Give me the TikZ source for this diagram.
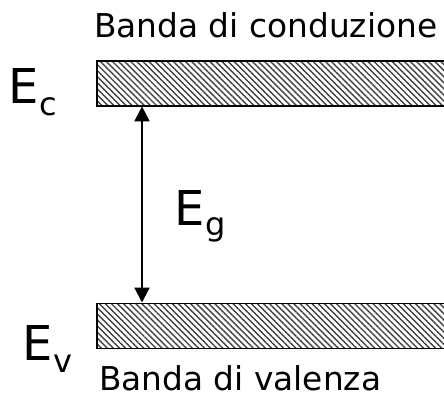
\documentclass[tikz,border=0pt]{standalone}
\usepackage{fontspec}
\setmainfont{DejaVu Sans}
\usetikzlibrary{arrows.meta,patterns.meta}
\tikzset{
  band/.style={draw=black, line width=1.6pt, pattern={Lines[angle=-45,distance=4.3pt,line width=1.4pt]}, pattern color=black!75, anchor=north west, minimum width=360pt, minimum height=45pt, inner sep=0pt},
  lbl/.style={anchor=base west, inner sep=0pt, font=\fontsize{32.8}{38}\selectfont},
  big/.style={anchor=base west, inner sep=0pt, font=\fontsize{48}{56}\selectfont},
  gap/.style={line width=2.2pt, {Triangle[length=15pt,width=15pt]}-{Triangle[length=15pt,width=15pt]}}
}
\begin{document}
\begin{tikzpicture}[x=1pt,y=-1pt]
\useasboundingbox (0,0) rectangle (444,399);
\clip (0,0) rectangle (444,399);
\node[band] (cb) at (96,60) {};
\node[band] (vb) at (96,302.5) {};
\coordinate (ax) at (142,0);
\draw[gap] (cb.south west -| ax) -- (vb.north west -| ax);
\node[lbl] (tc) at (94,37.5) {Banda di conduzione};
\node[lbl] (tv) at (99,390) {Banda di valenza};
\node[big] (ec) at (8.5,103) {E\raisebox{-12pt}{\fontsize{32}{36}\selectfont c}};
\node[big] (ev) at (22.5,360) {E\raisebox{-12pt}{\fontsize{32}{36}\selectfont v}};
\node[big] (eg) at (174.5,225) {E\raisebox{-10pt}{\fontsize{32}{36}\selectfont g}};
\end{tikzpicture}
\end{document}
